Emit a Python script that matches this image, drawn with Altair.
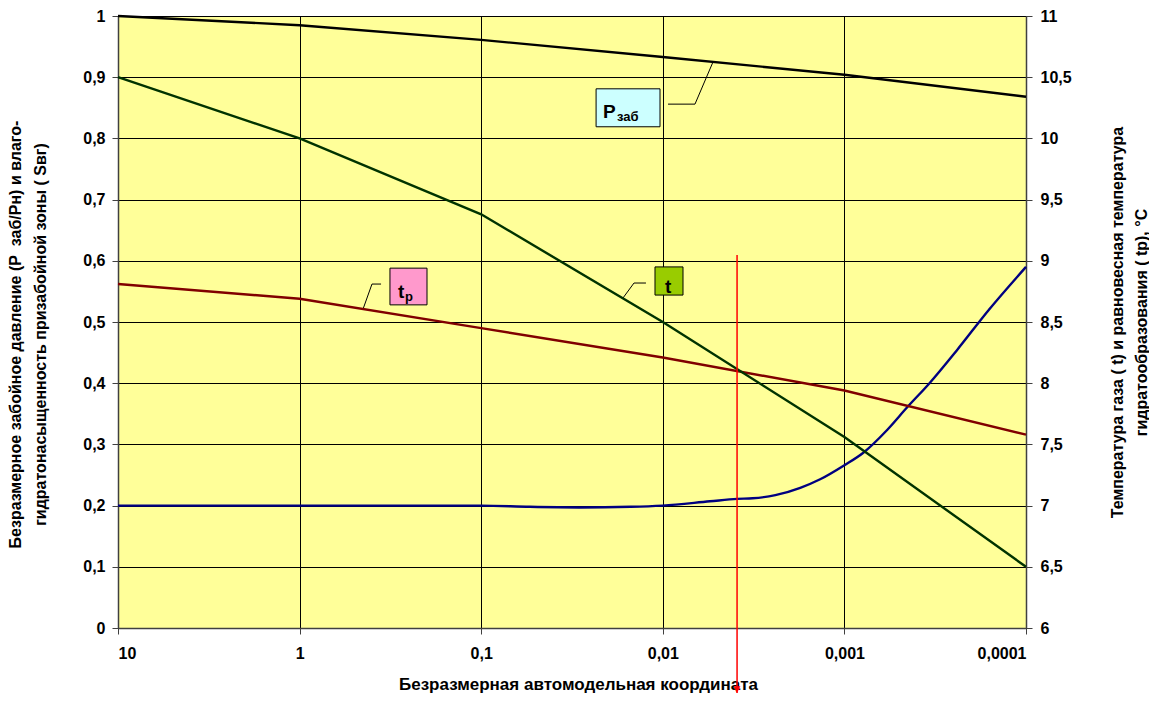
import altair as alt
import pandas as pd

FONT = "Liberation Sans"

# ---- data ----
x_dec = [10, 1, 0.1, 0.01, 0.001, 0.0001]
p_zab = [1.0, 0.985, 0.961, 0.933, 0.904, 0.868]          # left axis
t_gas = [10.5, 10.0, 9.38, 8.5, 7.56, 6.5]                 # right axis
t_p = [8.81, 8.69, 8.45, 8.21, 7.94, 7.58]                 # right axis
s_x = [10, 1, 0.1, 0.054, 0.029, 0.015, 0.01, 0.0055, 0.0039, 0.0032, 0.0024,
       0.00175, 0.00136, 0.001, 0.00079, 0.00058, 0.00045, 0.00034, 0.00024,
       0.00016, 0.0001]
s_vg = [0.2, 0.2, 0.2, 0.198, 0.197, 0.198, 0.2, 0.207, 0.211, 0.212, 0.217,
        0.229, 0.243, 0.266, 0.286, 0.324, 0.361, 0.40, 0.454, 0.52, 0.59]
left_ticks = [0, 0.1, 0.2, 0.3, 0.4, 0.5, 0.6, 0.7, 0.8, 0.9, 1]
right_ticks = [6, 6.5, 7, 7.5, 8, 8.5, 9, 9.5, 10, 10.5, 11]
marker_x = [0.0039]

# annotation boxes (data coords, left axis)
box_x = [0.0233, 0.318, 0.01104]
box_x2 = [0.01036, 0.1988, 0.00774]
box_y = [0.881, 0.588, 0.590]
box_y2 = [0.819, 0.528, 0.544]
box_fill = ["#CCFFFF", "#FF99CC", "#99CC00"]

# leader lines
lead_x = [0.00936, 0.00665, 0.00529, 0.356, 0.3994, 0.4475, 0.01238, 0.01441, 0.01657]
lead_y = [0.856, 0.856, 0.925, 0.562, 0.562, 0.521, 0.5637, 0.5637, 0.5392]
lead_g = ["p", "p", "p", "tp", "tp", "tp", "t", "t", "t"]
lead_o = [0, 1, 2, 0, 1, 2, 0, 1, 2]

# label texts
big_text = ["P", "t", "t"]
big_x = [0.02135, 0.287, 0.00973]
big_y = [0.8333, 0.5392, 0.5474]
sub_text = ["заб", "р"]
sub_x = [0.01788, 0.2628]
sub_y = [0.8284, 0.5343]

comma = "replace(toString(datum.value), '.', ',')"

X = alt.X("x:Q",
          scale=alt.Scale(type="log", domain=[0.0001, 10], reverse=True, nice=False),
          axis=alt.Axis(values=x_dec, labelExpr=comma, grid=True, gridColor="black",
                        gridWidth=1, gridOpacity=1, tickSize=6, labelPadding=11,
                        title="Безразмерная автомодельная координата",
                        titleFontSize=17,
                        titleX=460, titleY=56, titleBaseline="middle"))

YL = alt.Y("y:Q",
           scale=alt.Scale(domain=[0, 1], nice=False, zero=False),
           axis=alt.Axis(values=left_ticks, labelExpr=comma, grid=True, gridColor="black",
                         gridWidth=1, gridOpacity=1, tickSize=6, labelPadding=7,
                         title=["Безразмерное забойное давление (P\u00a0\u00a0заб/Pн) и влаго-",
                                "гидратонасыщенность призабойной зоны ( Sвг)"],
                         titleFontSize=16,
                         titleAngle=270, titleX=-103, titleY=318, titleAlign="center",
                         titleBaseline="middle", titleLineHeight=25))

YR = alt.Y("y:Q",
           scale=alt.Scale(domain=[6, 11], nice=False, zero=False),
           axis=alt.Axis(orient="right", values=right_ticks, labelExpr=comma, grid=False,
                         tickSize=6, labelPadding=8,
                         title=["Температура газа ( t) и равновесная температура",
                                "гидратообразования ( tр), °С"],
                         titleFontSize=16,
                         titleAngle=270, titleX=91, titleY=306, titleAlign="center",
                         titleBaseline="middle", titleLineHeight=24))

df_p = pd.DataFrame({"x": x_dec, "y": p_zab})
df_s = pd.DataFrame({"x": s_x, "y": s_vg})
df_t = pd.DataFrame({"x": x_dec, "y": t_gas})
df_tp = pd.DataFrame({"x": x_dec, "y": t_p})
df_box = pd.DataFrame({"x": box_x, "x2": box_x2, "y": box_y, "y2": box_y2, "c": box_fill})
df_lead = pd.DataFrame({"x": lead_x, "y": lead_y, "g": lead_g, "o": lead_o})
df_big = pd.DataFrame({"x": big_x, "y": big_y, "t": big_text})
df_sub = pd.DataFrame({"x": sub_x, "y": sub_y, "t": sub_text})
df_mark = pd.DataFrame({"x": marker_x, "a": ["▼"]})

LW = 2.4
p_line = alt.Chart(df_p).mark_line(color="black", strokeWidth=LW).encode(x=X, y=YL)
s_line = alt.Chart(df_s).mark_line(color="#000080", strokeWidth=LW,
                                   interpolate="monotone").encode(x=X, y=YL)
leads = alt.Chart(df_lead).mark_line(color="black", strokeWidth=1).encode(
    x=X, y=YL, detail="g:N", order="o:Q")
boxes = alt.Chart(df_box).mark_rect(stroke="black", strokeWidth=1).encode(
    x=X, x2="x2:Q", y=YL, y2="y2:Q", color=alt.Color("c:N", scale=None))
big = alt.Chart(df_big).mark_text(font=FONT, fontSize=19, fontWeight="bold", align="left",
                                  baseline="alphabetic", color="black").encode(
    x=X, y=YL, text="t:N")
sub = alt.Chart(df_sub).mark_text(font=FONT, fontSize=13, fontWeight="bold", align="left",
                                  baseline="alphabetic", color="black").encode(
    x=X, y=YL, text="t:N")

left = alt.layer(s_line, p_line, leads, boxes, big, sub)

t_line = alt.Chart(df_t).mark_line(color="#003300", strokeWidth=LW).encode(x=X, y=YR)
tp_line = alt.Chart(df_tp).mark_line(color="#800000", strokeWidth=LW).encode(x=X, y=YR)
right = alt.layer(tp_line, t_line)

rule = alt.Chart(df_mark).mark_rule(color="#FF0000", strokeWidth=1.5).encode(
    x=X, y=alt.value(239), y2=alt.value(677))
arrow = alt.Chart(df_mark).mark_text(font="DejaVu Sans", fontSize=9, color="#FF0000",
                                     align="center", baseline="bottom").encode(
    x=X, y=alt.value(678), text="a:N")
marker = alt.layer(rule, arrow)

chart = alt.layer(left, right, marker).resolve_scale(y="independent").properties(
    width=908, height=612,
    autosize=alt.AutoSizeParams(type="none"),
    padding={"left": 110, "top": 8, "right": 123, "bottom": 65},
).configure(font=FONT).configure_view(
    fill="#FFFF99", stroke="#808080", strokeWidth=1
).configure_axis(
    labelFont=FONT, labelFontSize=16, labelFontWeight="bold", labelColor="black",
    titleFont=FONT, titleFontSize=16, titleFontWeight="bold", titleColor="black",
    tickColor="#404040", domainColor="#404040", domainWidth=1.5,
)

chart.save("out.html", embed_options={"renderer": "svg", "actions": False})
